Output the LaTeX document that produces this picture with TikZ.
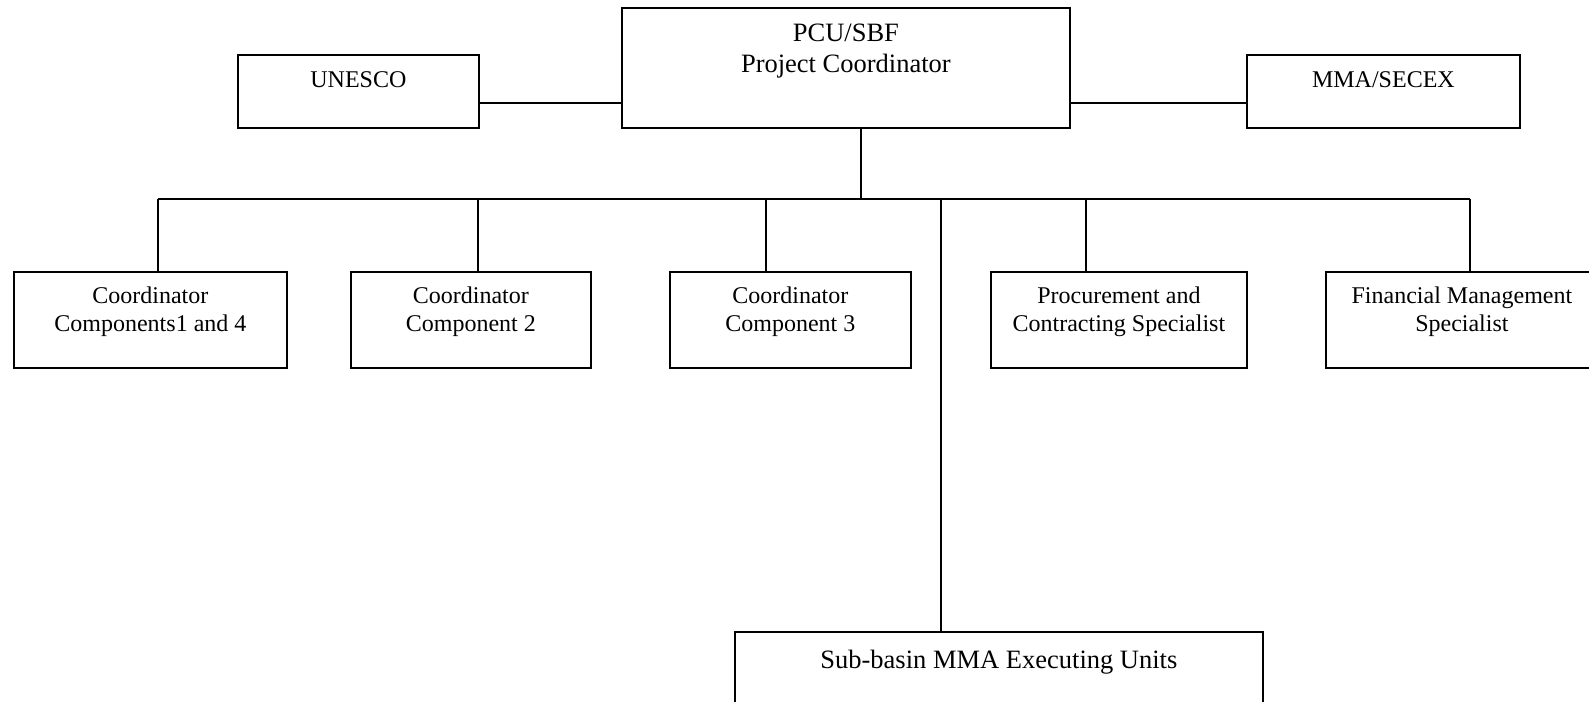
\documentclass[tikz,border=0pt]{standalone}
\usepackage{fontspec}
\setmainfont{Liberation Serif}
\begin{document}
\begin{tikzpicture}[x=1pt,y=-1pt,
  orgbox/.style={draw, line width=1.8pt, inner sep=0pt, anchor=north west},
  smalltxt/.style={font=\fontsize{24}{28}\selectfont, align=center, anchor=base, inner sep=0pt},
  bigtxt/.style={font=\fontsize{26.5}{31}\selectfont, align=center, anchor=base, inner sep=0pt},
  link/.style={line width=1.4pt}]
\useasboundingbox (0,0) rectangle (1589,701);
\clip (0,0) rectangle (1589,701);

% boxes
\node[orgbox, minimum width=448pt, minimum height=120pt] (pcu) at (621,7) {};
\node[orgbox, minimum width=241pt, minimum height=73pt] (unesco) at (237,54) {};
\node[orgbox, minimum width=273pt, minimum height=73pt] (mma) at (1246,54) {};
\node[orgbox, minimum width=273pt, minimum height=96pt] (c1) at (13,271) {};
\node[orgbox, minimum width=240pt, minimum height=96pt] (c2) at (350,271) {};
\node[orgbox, minimum width=241pt, minimum height=96pt] (c3) at (669,271) {};
\node[orgbox, minimum width=256pt, minimum height=96pt] (proc) at (990,271) {};
\node[orgbox, minimum width=272pt, minimum height=96pt] (fin) at (1325,271) {};
\node[orgbox, minimum width=528pt, minimum height=100pt] (sub) at (734,631) {};

% labels (anchor base = baseline of last line)
\node[bigtxt] (pcut) at ([yshift=-65.7pt]pcu.north) {PCU/SBF\\Project Coordinator};
\node[smalltxt] (unescot) at ([yshift=-33pt]unesco.north) {UNESCO};
\node[smalltxt] (mmat) at ([yshift=-33pt]mma.north) {MMA/SECEX};
\node[smalltxt] (c1t) at ([yshift=-60.3pt]c1.north) {Coordinator\\Components1 and 4};
\node[smalltxt] (c2t) at ([yshift=-60.3pt]c2.north) {Coordinator\\Component 2};
\node[smalltxt] (c3t) at ([yshift=-60.3pt]c3.north) {Coordinator\\Component 3};
\node[smalltxt] (proct) at ([yshift=-60.3pt]proc.north) {Procurement and\\Contracting Specialist};
\node[smalltxt] (fint) at ([yshift=-60.3pt]fin.north) {Financial Management\\Specialist};
\node[bigtxt] (subt) at ([yshift=-37pt]sub.north) {Sub-basin MMA Executing Units};

% connectors
\coordinate (hy) at (0,103);
\draw[link] (hy -| unesco.east) -- (hy -| pcu.west);
\draw[link] (hy -| pcu.east) -- (hy -| mma.west);

\coordinate (top) at (861,127);
\coordinate (b1) at (158,199);
\coordinate (b2) at (478,199);
\coordinate (b3) at (766,199);
\coordinate (b4) at (941,199);
\coordinate (b5) at (1086,199);
\coordinate (b6) at (1470,199);
\draw[link] (top |- pcu.south) -- (top |- b1);
\draw[link] (b1) -- (b6);
\draw[link] (b1) -- (b1 |- c1.north);
\draw[link] (b2) -- (b2 |- c2.north);
\draw[link] (b3) -- (b3 |- c3.north);
\draw[link] (b4) -- (b4 |- sub.north);
\draw[link] (b5) -- (b5 |- proc.north);
\draw[link] (b6) -- (b6 |- fin.north);
\end{tikzpicture}
\end{document}
